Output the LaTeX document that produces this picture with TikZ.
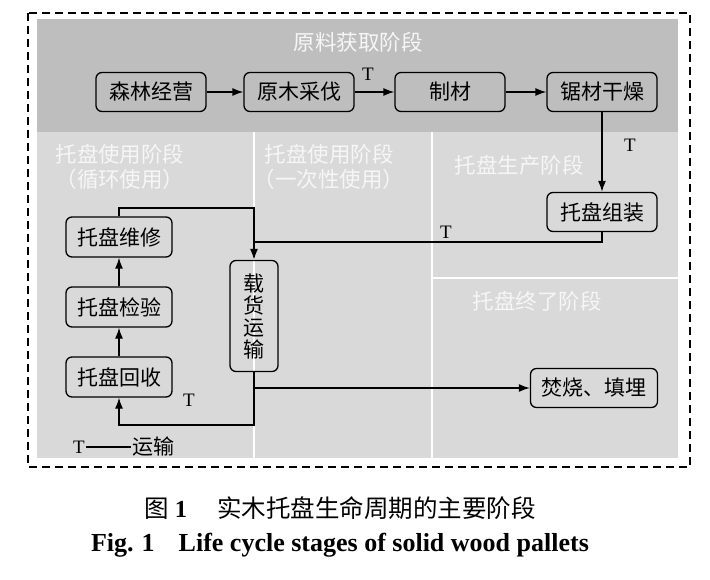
\documentclass[tikz,border=0pt]{standalone}
\usepackage{fontspec}
\setmainfont{Liberation Serif}
\newfontfamily\cjk{Noto Sans CJK SC}
\usetikzlibrary{arrows.meta}
\definecolor{bandgray}{RGB}{190,190,190}
\definecolor{areagray}{RGB}{217,217,217}
\definecolor{phasetext}{RGB}{246,246,246}
\tikzset{
    stagebox/.style={draw, line width=1.3pt, rounded corners=6pt, inner sep=0pt,
        minimum width=110pt, minimum height=39pt, font=\cjk\fontsize{21}{22}\selectfont},
    phase/.style={text=phasetext, align=center, font=\cjk\fontsize{21.5}{25}\selectfont},
    flow/.style={-{Latex[length=11pt,width=8pt]}, line width=1.3pt},
    link/.style={line width=1.3pt},
    tmark/.style={font=\fontsize{19}{19}\selectfont}
}
\begin{document}
\begin{tikzpicture}[x=1pt,y=-1pt]
            \useasboundingbox (0,0) rectangle (710,580);
            \fill[bandgray] (37,19) rectangle (678,132);
            \fill[areagray] (37,132) rectangle (678,458);
            \draw[white, line width=1.5pt] (254,132)--(254,458);
            \draw[white, line width=1.5pt] (432,132)--(432,458);
            \draw[white, line width=1.5pt] (432,278)--(678,278);
            \draw[dashed, line width=1.2pt, dash pattern=on 8pt off 5pt] (28,13) rectangle (690,467);
            \node[phase] (rawphase) at (358,42) {原料获取阶段};
            \node[phase] (cyclephase) at (120,167) {托盘使用阶段\\（循环使用）};
            \node[phase] (oncephase) at (329,167) {托盘使用阶段\\（一次性使用）};
            \node[phase] (makephase) at (519,165) {托盘生产阶段};
            \node[phase] (endphase) at (537,301) {托盘终了阶段};
            \node[stagebox] (forest) at (151,92) {森林经营};
            \node[stagebox] (harvest) at (299,92) {原木采伐};
            \node[stagebox] (saw) at (450,92) {制材};
            \node[stagebox] (dry) at (602,92) {锯材干燥};
            \node[stagebox] (assemble) at (602,212) {托盘组装};
            \node[stagebox, minimum width=106pt, minimum height=40pt] (repair) at (119,237) {托盘维修};
            \node[stagebox, minimum width=106pt, minimum height=40pt] (inspect) at (119,307) {托盘检验};
            \node[stagebox, minimum width=106pt, minimum height=40pt] (recover) at (119,377) {托盘回收};
            \node[stagebox, minimum width=48pt, minimum height=111pt, align=center] (transport) at (254,316) {载\\货\\运\\输};
            \node[stagebox, minimum width=127pt] (burn) at (594,388) {焚烧、填埋};
            \coordinate (join) at (254,242);
            \coordinate (bend) at (254,208);
            \coordinate (fork) at (254,388);
            \coordinate (back) at (254,425);
            \draw[flow] (forest)--(harvest);
            \draw[flow] (harvest)--(saw);
            \draw[flow] (saw)--(dry);
            \draw[flow] (dry)--(assemble);
            \draw[link] (assemble.south) |- (join);
            \draw[link] (repair.north) |- (bend)--(join);
            \draw[flow] (join)--(transport.north);
            \draw[flow] (transport.south)--(back) -| (recover.south);
            \draw[flow] (fork)--(burn.west);
            \draw[flow] (recover)--(inspect);
            \draw[flow] (inspect)--(repair);
            \node[tmark] at (368,74) {T};
            \node[tmark] at (630,145) {T};
            \node[tmark] at (446,232) {T};
            \node[tmark] at (189,400) {T};
            \node[tmark, inner sep=1pt] (legT) at (79,447) {T};
            \node[font=\cjk\fontsize{21}{22}\selectfont, inner sep=1pt] (legtext) at (153,447) {运输};
            \draw[link] (legT)--(legtext);
            \node[font=\cjk\fontsize{24.5}{26}\selectfont] (capzh) at (340,508) {图\hspace{6pt}{\fontspec{Liberation Serif Bold}1}\hspace{30pt}实木托盘生命周期的主要阶段};
            \node[font=\bfseries\fontsize{26}{27}\selectfont] (capen) at (340,545) {Fig.\hspace{8pt}1\hspace{24pt}Life cycle stages of solid wood pallets};
        \end{tikzpicture}
\end{document}
